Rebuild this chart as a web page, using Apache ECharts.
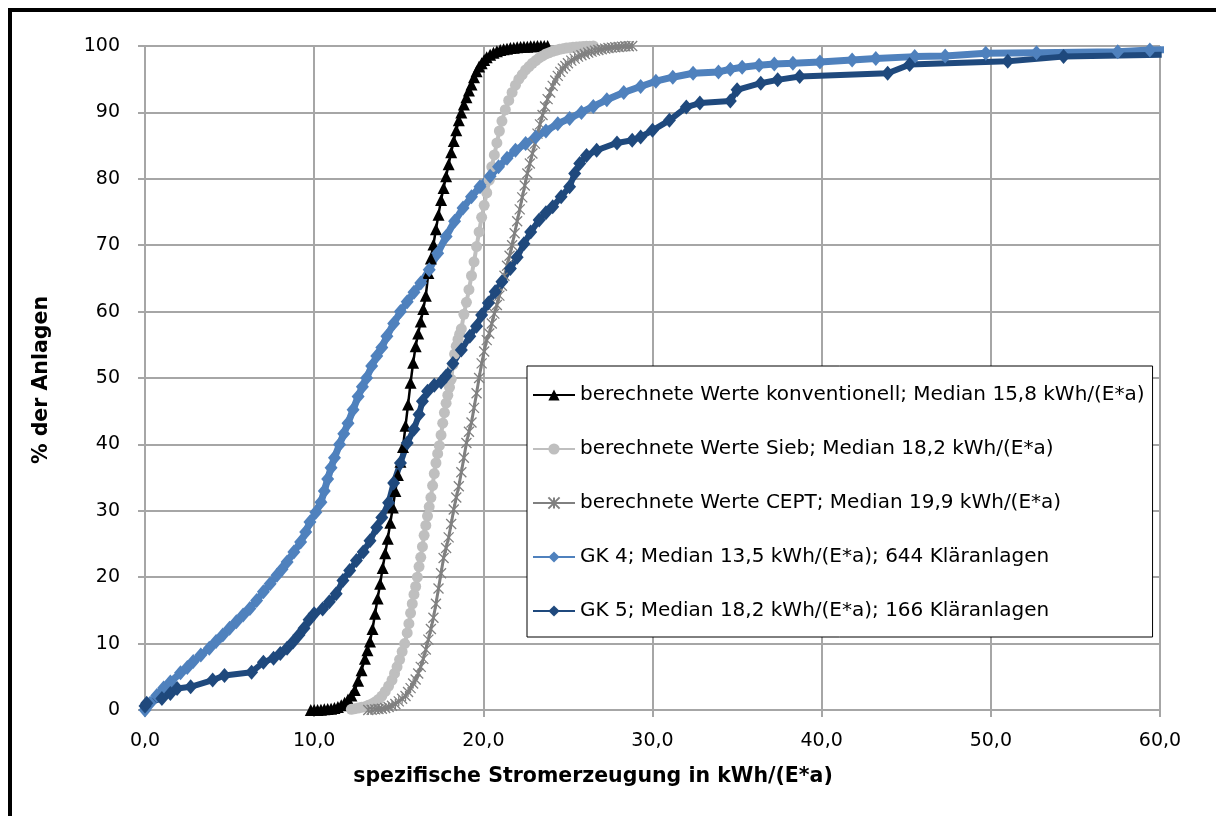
<!DOCTYPE html>
<html>
<head>
<meta charset="utf-8">
<script src="https://cdn.jsdelivr.net/npm/echarts@6/dist/echarts.min.js"></script>
<style>
    html, body { margin: 0; padding: 0; background: #fff; overflow: hidden; }
    #chart { width: 1216px; height: 816px; }
    .frame {
        position: absolute; left: 8px; top: 8px; width: 1300px; height: 900px;
        border-top: 4px solid #000; border-left: 4px solid #000; pointer-events: none;
    }
</style>
</head>
<body>
<div id="chart"></div>
<div class="frame"></div>
<script>
// values: [x kWh/(E*a), % der Anlagen]
var seriesNames = [
    'berechnete Werte konventionell; Median 15,8 kWh/(E*a)',
    'berechnete Werte Sieb; Median 18,2 kWh/(E*a)',
    'berechnete Werte CEPT; Median 19,9 kWh/(E*a)',
    'GK 4; Median 13,5 kWh/(E*a); 644 Kläranlagen',
    'GK 5; Median 18,2 kWh/(E*a); 166 Kläranlagen'
];

var konventionell = [[9.8,0],[10.0,0],[10.2,0],[10.4,0.05],[10.6,0.1],[10.8,0.15],[11.0,0.2],[11.2,0.3],[11.4,0.45],[11.6,0.7],
    [11.8,1.1],[12.0,1.6],[12.2,2.2],[12.4,3.0],[12.6,4.4],[12.8,6.0],[13.0,7.7],[13.15,9.0],[13.3,10.3],[13.45,12.2],
    [13.6,14.5],[13.75,16.8],[13.9,19.0],[14.05,21.4],[14.2,23.6],[14.35,25.8],[14.5,28.2],[14.65,30.5],[14.8,33.0],[14.95,35.4],
    [15.1,37.4],[15.25,39.6],[15.4,42.8],[15.55,46.0],[15.7,49.3],[15.85,52.3],[16.0,54.8],[16.15,56.7],[16.3,58.5],[16.45,60.4],
    [16.6,62.4],[16.75,65.8],[16.9,68.0],[17.05,70.1],[17.2,72.4],[17.35,74.6],[17.5,76.8],[17.65,78.6],[17.8,80.4],[17.95,82.2],
    [18.1,84.0],[18.25,85.7],[18.4,87.3],[18.55,88.8],[18.7,90.0],[18.85,91.2],[19.0,92.3],[19.15,93.3],[19.3,94.2],[19.45,95.3],
    [19.6,96.2],[19.75,96.9],[19.9,97.4],[20.05,97.9],[20.2,98.3],[20.4,98.7],[20.6,99.0],[20.8,99.2],[21.0,99.4],[21.2,99.5],
    [21.4,99.6],[21.6,99.7],[21.8,99.75],[22.0,99.8],[22.2,99.85],[22.4,99.9],[22.6,99.9],[22.8,99.95],[23.0,99.95],[23.2,100],
    [23.4,100],[23.6,100],[23.8,100]];

var sieb = [[12.2,0.1],[12.4,0.2],[12.6,0.3],[12.8,0.4],[13.0,0.5],[13.2,0.7],[13.4,0.9],[13.6,1.2],[13.8,1.6],[14.0,2.1],
    [14.2,2.8],[14.4,3.6],[14.6,4.5],[14.75,5.5],[14.9,6.5],[15.05,7.6],[15.2,8.8],[15.35,10.0],[15.5,11.6],[15.6,13.0],
    [15.7,14.6],[15.8,16.0],[15.9,17.4],[16.0,18.6],[16.1,20.0],[16.2,21.6],[16.3,23.0],[16.4,24.6],[16.5,26.3],[16.6,27.8],
    [16.7,29.2],[16.8,30.6],[16.9,32.0],[17.0,33.8],[17.1,35.6],[17.2,37.2],[17.3,38.6],[17.4,39.8],[17.5,41.4],[17.6,43.2],
    [17.7,44.8],[17.8,46.2],[17.9,47.4],[18.0,48.6],[18.1,49.8],[18.2,52.0],[18.3,53.6],[18.4,54.8],[18.5,55.8],[18.6,56.6],
    [18.7,57.4],[18.85,59.6],[19.0,61.4],[19.15,63.3],[19.3,65.4],[19.45,67.5],[19.6,69.8],[19.75,72.0],[19.9,74.2],[20.05,76.0],
    [20.2,77.9],[20.35,79.8],[20.5,81.8],[20.65,83.6],[20.8,85.4],[20.95,87.2],[21.1,88.7],[21.3,90.4],[21.5,91.8],[21.7,93.0],
    [21.9,94.1],[22.1,95.0],[22.3,95.7],[22.5,96.4],[22.7,96.9],[22.9,97.4],[23.1,97.8],[23.3,98.2],[23.5,98.5],[23.7,98.8],
    [23.9,99.0],[24.1,99.2],[24.3,99.35],[24.5,99.5],[24.7,99.6],[24.9,99.7],[25.1,99.75],[25.3,99.8],[25.5,99.85],[25.7,99.9],
    [25.9,99.92],[26.1,99.95],[26.3,99.97],[26.5,100]];

var cept = [[13.2,0],[13.4,0.05],[13.6,0.1],[13.8,0.15],[14.0,0.2],[14.2,0.3],[14.4,0.45],[14.6,0.65],[14.8,0.9],[15.0,1.3],
    [15.2,1.7],[15.4,2.1],[15.55,2.7],[15.7,3.3],[15.85,4.0],[16.0,4.6],[16.15,5.5],[16.3,6.5],[16.45,7.7],[16.6,9.1],
    [16.75,10.6],[16.9,12.2],[17.05,13.9],[17.2,16.0],[17.35,18.3],[17.5,20.6],[17.65,22.9],[17.8,24.4],[17.95,26.0],[18.1,28.0],
    [18.25,30.2],[18.4,32.0],[18.55,33.7],[18.7,35.8],[18.85,38.0],[19.0,40.2],[19.15,41.9],[19.3,43.3],[19.45,45.5],[19.6,47.7],
    [19.75,50.0],[19.9,52.2],[20.05,54.0],[20.2,55.7],[20.35,56.7],[20.5,58.2],[20.65,59.7],[20.8,61.0],[20.95,62.4],[21.1,63.9],
    [21.25,65.4],[21.4,66.9],[21.55,68.4],[21.7,70.0],[21.85,71.8],[22.0,73.6],[22.15,75.4],[22.3,77.2],[22.45,79.0],[22.6,80.8],
    [22.75,82.3],[22.9,83.8],[23.05,85.3],[23.2,86.8],[23.35,88.2],[23.5,89.6],[23.65,90.9],[23.8,92.0],[23.95,93.0],[24.1,94.0],
    [24.25,94.8],[24.4,95.5],[24.55,96.1],[24.7,96.6],[24.85,97.0],[25.0,97.4],[25.2,97.8],[25.4,98.1],[25.6,98.4],[25.8,98.6],
    [26.0,98.8],[26.2,99.0],[26.4,99.15],[26.6,99.3],[26.8,99.4],[27.0,99.5],[27.2,99.6],[27.4,99.7],[27.6,99.75],[27.8,99.8],
    [28.0,99.85],[28.2,99.9],[28.4,99.95],[28.6,99.97],[28.8,100]];

var gk4 = [[0,0],[0.3,1.0],[0.7,2.2],[1.1,3.3],[1.5,4.2],[2.1,5.6],[2.5,6.4],[2.85,7.3],[3.3,8.3],[3.8,9.3],
    [4.2,10.3],[4.6,11.3],[5.0,12.3],[5.4,13.3],[5.8,14.3],[6.2,15.3],[6.6,16.5],[7.0,17.8],[7.4,19.0],[7.8,20.3],
    [8.1,21.2],[8.4,22.3],[8.8,23.8],[9.2,25.3],[9.5,26.8],[9.75,28.3],[10.1,29.8],[10.4,31.3],[10.6,33.0],[10.8,34.8],
    [11.0,36.5],[11.2,38.0],[11.5,40.0],[11.75,41.6],[12.0,43.2],[12.3,45.2],[12.6,47.2],[12.85,48.7],[13.1,50.0],[13.4,51.8],
    [13.7,53.3],[14.0,54.6],[14.3,56.3],[14.7,58.2],[15.1,60.0],[15.5,61.5],[15.9,62.9],[16.3,64.3],[16.8,66.3],[17.3,68.8],
    [17.8,71.3],[18.3,73.6],[18.8,75.6],[19.3,77.3],[19.8,78.8],[20.4,80.4],[20.9,81.8],[21.4,83.1],[21.9,84.3],[22.5,85.3],
    [23.1,86.3],[23.7,87.2],[24.4,88.3],[25.1,89.1],[25.8,90.0],[26.5,90.9],[27.3,91.9],[28.3,93.0],[29.3,93.9],[30.2,94.7],
    [31.2,95.3],[32.4,95.9],[33.9,96.1],[34.6,96.5],[35.3,96.8],[36.3,97.1],[37.2,97.3],[38.3,97.4],[39.9,97.6],[41.8,97.9],
    [43.2,98.1],[45.5,98.4],[47.3,98.5],[49.7,98.9],[52.7,99.0],[57.5,99.15],[59.4,99.4],[62.0,99.5]];

var gk5 = [[0,0.6],[0.1,1.0],[1.0,1.75],[1.5,2.5],[1.9,3.25],[2.7,3.5],[4.0,4.5],[4.7,5.2],[6.3,5.7],[7.0,7.2],
    [7.6,7.8],[8.0,8.5],[8.4,9.3],[8.75,10.25],[9.1,11.3],[9.4,12.3],[9.7,13.6],[10.0,14.5],[10.5,15.2],[10.9,16.3],
    [11.3,17.5],[11.7,19.5],[12.1,21.0],[12.5,22.5],[12.9,23.8],[13.3,25.5],[13.7,27.5],[14.0,29.0],[14.4,31.2],[14.7,34.2],
    [15.1,37.2],[15.5,40.2],[15.9,42.3],[16.2,44.5],[16.4,46.5],[16.7,48.0],[17.1,48.9],[17.5,49.4],[17.8,50.3],[18.2,52.2],
    [18.7,54.2],[19.2,56.3],[19.6,57.8],[19.9,59.5],[20.3,61.3],[20.7,63.0],[21.1,64.5],[21.6,66.5],[22.0,68.2],[22.4,70.2],
    [22.8,72.0],[23.3,73.8],[23.7,74.9],[24.1,75.8],[24.6,77.3],[25.1,78.8],[25.4,80.8],[25.7,82.3],[26.1,83.5],[26.7,84.3],
    [27.9,85.4],[28.8,85.8],[29.3,86.3],[30.0,87.3],[31.0,88.8],[32.0,90.8],[32.8,91.4],[34.6,91.7],[35.0,93.4],[36.4,94.4],
    [37.4,94.9],[38.7,95.4],[43.9,95.9],[45.2,97.2],[51.0,97.7],[54.3,98.4],[60.1,98.7]];

var xTitle = 'spezifische Stromerzeugung in kWh/(E*a)';
var yTitle = '% der Anlagen';

var font = 'DejaVu Sans';
var gridColor = '#A6A6A6';
var asterisk = 'path://M0,0L10,10M10,0L0,10M5,0L5,10';

var chart = echarts.init(document.getElementById('chart'));

var option = {
    animation: false,
    backgroundColor: '#fff',
    grid: { left: 145, right: 56, top: 46, bottom: 106, containLabel: false },
    legend: {
        orient: 'vertical',
        left: 527,
        top: 366,
        padding: [19, 8, 16, 5],
        itemGap: 34,
        itemWidth: 42,
        itemHeight: 14,
        borderColor: '#000',
        borderWidth: 1,
        backgroundColor: '#fff',
        textStyle: { fontFamily: font, fontSize: 20, color: '#000', lineHeight: 20 },
        data: seriesNames
    },
    xAxis: {
        type: 'value',
        min: 0,
        max: 60,
        interval: 10,
        axisLine: { show: true, lineStyle: { color: gridColor, width: 2 } },
        axisTick: { show: true, length: 7, lineStyle: { color: gridColor, width: 2 } },
        splitLine: { show: true, lineStyle: { color: gridColor, width: 2 } },
        axisLabel: {
            margin: 22,
            fontFamily: font,
            fontSize: 19,
            color: '#000',
            formatter: function (v) { return v.toFixed(1).replace('.', ','); }
        }
    },
    yAxis: {
        type: 'value',
        min: 0,
        max: 100,
        interval: 10,
        axisLine: { show: true, lineStyle: { color: gridColor, width: 2 } },
        axisTick: { show: true, length: 7, lineStyle: { color: gridColor, width: 2 } },
        splitLine: { show: true, lineStyle: { color: gridColor, width: 2 } },
        axisLabel: { margin: 25, fontFamily: font, fontSize: 19, color: '#000' }
    },
    graphic: [
        {
            type: 'text',
            x: 593,
            y: 777,
            style: {
                text: xTitle, font: 'bold 20.5px "DejaVu Sans"', fill: '#000',
                textAlign: 'center', textVerticalAlign: 'middle'
            }
        },
        {
            type: 'text',
            x: 42,
            y: 380,
            rotation: Math.PI / 2,
            style: {
                text: yTitle, font: 'bold 20.5px "DejaVu Sans"', fill: '#000',
                textAlign: 'center', textVerticalAlign: 'middle'
            }
        }
    ],
    series: [
        {
            name: seriesNames[0],
            type: 'line',
            data: konventionell,
            symbol: 'triangle',
            symbolSize: 12,
            lineStyle: { color: '#000', width: 2.5 },
            itemStyle: { color: '#000' }
        },
        {
            name: seriesNames[1],
            type: 'line',
            data: sieb,
            symbol: 'circle',
            symbolSize: 11,
            lineStyle: { color: '#BFBFBF', width: 4 },
            itemStyle: { color: '#BFBFBF' }
        },
        {
            name: seriesNames[2],
            type: 'line',
            data: cept,
            symbol: asterisk,
            symbolSize: 10,
            lineStyle: { color: '#808080', width: 3 },
            itemStyle: { color: 'rgba(0,0,0,0)', borderColor: '#808080', borderWidth: 1.3 }
        },
        {
            name: seriesNames[3],
            type: 'line',
            data: gk4,
            symbol: 'diamond',
            symbolSize: [13, 15],
            lineStyle: { color: '#4F81BD', width: 7 },
            itemStyle: { color: '#4F81BD' }
        },
        {
            name: seriesNames[4],
            type: 'line',
            data: gk5,
            symbol: 'diamond',
            symbolSize: [13, 15],
            lineStyle: { color: '#1F497D', width: 6 },
            itemStyle: { color: '#1F497D' }
        }
    ]
};

chart.setOption(option);
</script>
</body>
</html>
